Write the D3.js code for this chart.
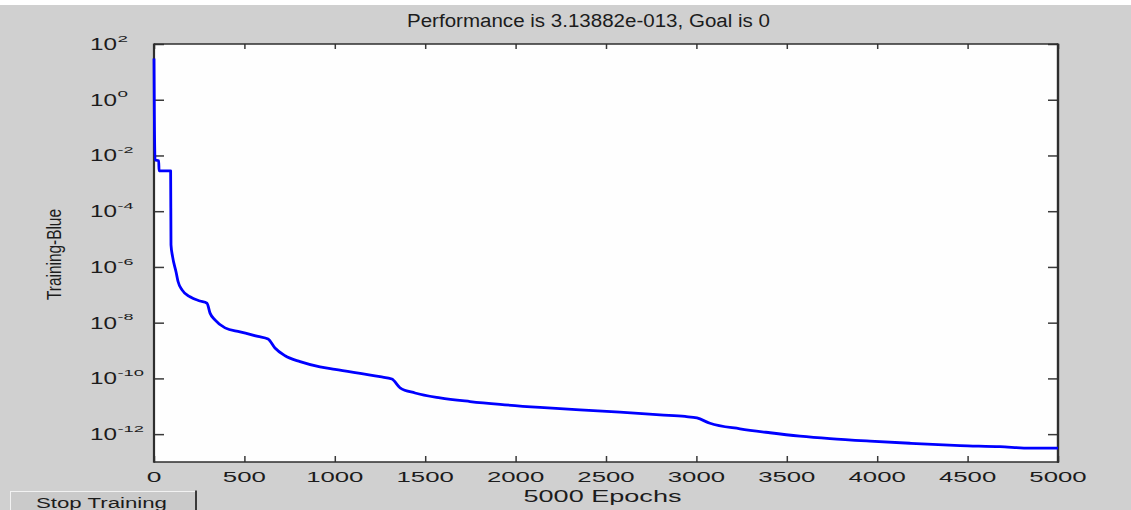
<!DOCTYPE html>
<html>
<head>
<meta charset="utf-8">
<script src="https://cdn.jsdelivr.net/npm/d3@7"></script>
<style>
  html, body { margin: 0; padding: 0; background: #d0d0d0; overflow: hidden; }
  svg { display: block; }
  text { font-family: "Liberation Sans", Arial, sans-serif; fill: #1c1c1c; }
</style>
</head>
<body>
<svg id="chart" width="1131" height="510"></svg>
<script>
// Training record: epoch and mean squared error
const epochs = [0, 2, 6, 26, 28, 92, 94, 103, 122, 133, 155, 199, 254, 293, 310, 337, 393, 476, 575, 631,
  669, 725, 808, 918, 1001, 1250, 1316, 1361, 1444, 1582, 1748, 1914, 2135, 2356, 2577, 2799, 2937,
  3003, 3075, 3241, 3407, 3573, 3739, 3960, 4181, 4458, 4679, 4845, 5000];
const performance = [30, 0.26, 0.0069, 0.0065, 0.0028, 0.0028, 6.2e-6, 2.3e-6, 6.6e-7, 3.0e-7, 1.5e-7,
  8.5e-8, 6.0e-8, 5.0e-8, 2.2e-8, 1.26e-8, 6.5e-9, 4.7e-9, 3.2e-9, 2.6e-9,
  1.23e-9, 6.5e-10, 4.0e-10, 2.6e-10, 2.1e-10, 1.15e-10, 9.5e-11, 4.6e-11, 3.0e-11, 2.0e-11, 1.48e-11,
  1.17e-11, 9.1e-12, 7.4e-12, 6.2e-12, 4.9e-12, 4.3e-12,
  3.8e-12, 2.45e-12, 1.55e-12, 1.12e-12, 8.5e-13, 6.9e-13, 5.6e-13, 4.7e-13, 3.9e-13, 3.55e-13, 3.16e-13, 3.13882e-13];

const xTicks = [0, 500, 1000, 1500, 2000, 2500, 3000, 3500, 4000, 4500, 5000];
const yTickExponents = [-12, -10, -8, -6, -4, -2, 0, 2];

const titleText = "Performance is 3.13882e-013, Goal is 0";
const xLabelText = "5000 Epochs";
const yLabelText = "Training-Blue";
const buttonText = "Stop Training";

const svg = d3.select("#chart");
const W = 1131, H = 510;
const plot = { left: 154, right: 1058, top: 44, bottom: 462 };

const x = d3.scaleLinear().domain([0, 5000]).range([plot.left, plot.right]);
const y = d3.scaleLog().domain([1e-13, 1e2]).range([plot.bottom, plot.top]);

// Window background with a thin white strip along the top
svg.append("rect").attr("width", W).attr("height", H).attr("fill", "#d0d0d0");
svg.append("rect").attr("width", W).attr("height", 5).attr("fill", "#ffffff");

// Axes area
svg.append("rect")
  .attr("x", plot.left).attr("y", plot.top)
  .attr("width", plot.right - plot.left).attr("height", plot.bottom - plot.top)
  .attr("fill", "#fefefe");

// Horizontally stretched text helper
function fit(sel, len) {
  return sel.attr("textLength", len).attr("lengthAdjust", "spacingAndGlyphs");
}

// Tick marks pointing inward on all four sides
const yTicks = yTickExponents.map(e => Math.pow(10, e));
function styleAxis(g) {
  g.select(".domain").remove();
  g.selectAll(".tick text").remove();
  g.selectAll(".tick line").attr("stroke", "#3a3a3a").attr("stroke-width", 1.5);
}
svg.append("g").attr("transform", `translate(0,${plot.bottom})`)
  .call(d3.axisBottom(x).tickValues(xTicks).tickSizeInner(-6).tickSizeOuter(0)).call(styleAxis);
svg.append("g").attr("transform", `translate(0,${plot.top})`)
  .call(d3.axisTop(x).tickValues(xTicks).tickSizeInner(-5).tickSizeOuter(0)).call(styleAxis);
svg.append("g").attr("transform", `translate(${plot.left},0)`)
  .call(d3.axisLeft(y).tickValues(yTicks).tickSizeInner(-10).tickSizeOuter(0)).call(styleAxis);
svg.append("g").attr("transform", `translate(${plot.right},0)`)
  .call(d3.axisRight(y).tickValues(yTicks).tickSizeInner(-10).tickSizeOuter(0)).call(styleAxis);

// Box edges
const edge = (x1, y1, x2, y2, w) => svg.append("line")
  .attr("x1", x1).attr("y1", y1).attr("x2", x2).attr("y2", y2)
  .attr("stroke", "#2e2e2e").attr("stroke-width", w);
edge(plot.left, plot.top, plot.right, plot.top, 1.3);
edge(plot.left, plot.bottom, plot.right + 1, plot.bottom, 1.7);
edge(plot.left, plot.top - 0.6, plot.left, plot.bottom + 0.8, 2.2);
edge(plot.right, plot.top - 0.6, plot.right, plot.bottom + 0.8, 2.4);

// Training curve
const series = epochs.map((e, i) => ({ e: e, v: performance[i] }));
const line = d3.line().x(d => x(d.e)).y(d => y(d.v)).curve(d3.curveMonotoneX);
svg.append("path")
  .datum(series)
  .attr("d", line)
  .attr("fill", "none")
  .attr("stroke", "#0000ff")
  .attr("stroke-width", 2.8)
  .attr("stroke-linejoin", "round");

// X tick labels
svg.append("g").selectAll("text").data(xTicks).join("text")
  .attr("x", d => x(d)).attr("y", plot.bottom + 19.7)
  .attr("text-anchor", "middle")
  .attr("font-size", 15.5)
  .text(d => String(d))
  .each(function(d) { fit(d3.select(this), 14.2 * String(d).length + 0.5); });

// Y tick labels: base "10" with a raised exponent
const yLab = svg.append("g");
yTickExponents.forEach(e => {
  const ty = y(Math.pow(10, e));
  fit(yLab.append("text")
    .attr("x", 90).attr("y", ty + 6)
    .attr("font-size", 16.5)
    .text("10"), 27);
  const s = String(e);
  const digits = s.replace("-", "").length;
  const minus = s.startsWith("-") ? 1 : 0;
  fit(yLab.append("text")
    .attr("x", 117.5).attr("y", ty - 2.3)
    .attr("font-size", 9.5)
    .text(s), 10.5 * digits + 5.5 * minus);
});

// Title
fit(svg.append("text")
  .attr("x", 407).attr("y", 27)
  .attr("font-size", 18)
  .text(titleText), 363);

// X axis label
fit(svg.append("text")
  .attr("x", 523.5).attr("y", 501.7)
  .attr("font-size", 16.3)
  .text(xLabelText), 158);

// Y axis label
fit(svg.append("text")
  .attr("transform", "translate(60.5,254.5) rotate(-90)")
  .attr("text-anchor", "middle")
  .attr("font-size", 21)
  .text(yLabelText), 91);

// Stop Training button
const btn = svg.append("g");
btn.append("rect").attr("x", 10).attr("y", 491).attr("width", 185).attr("height", 22)
  .attr("fill", "#cacaca");
btn.append("line").attr("x1", 10).attr("y1", 491.5).attr("x2", 195).attr("y2", 491.5)
  .attr("stroke", "#f2f2f2").attr("stroke-width", 1);
btn.append("line").attr("x1", 10.5).attr("y1", 491).attr("x2", 10.5).attr("y2", 510)
  .attr("stroke", "#f2f2f2").attr("stroke-width", 1);
btn.append("line").attr("x1", 196).attr("y1", 490.5).attr("x2", 196).attr("y2", 510)
  .attr("stroke", "#3a3a3a").attr("stroke-width", 2);
fit(btn.append("text")
  .attr("x", 36).attr("y", 508)
  .attr("font-size", 15.5)
  .text(buttonText), 131);
</script>
</body>
</html>
